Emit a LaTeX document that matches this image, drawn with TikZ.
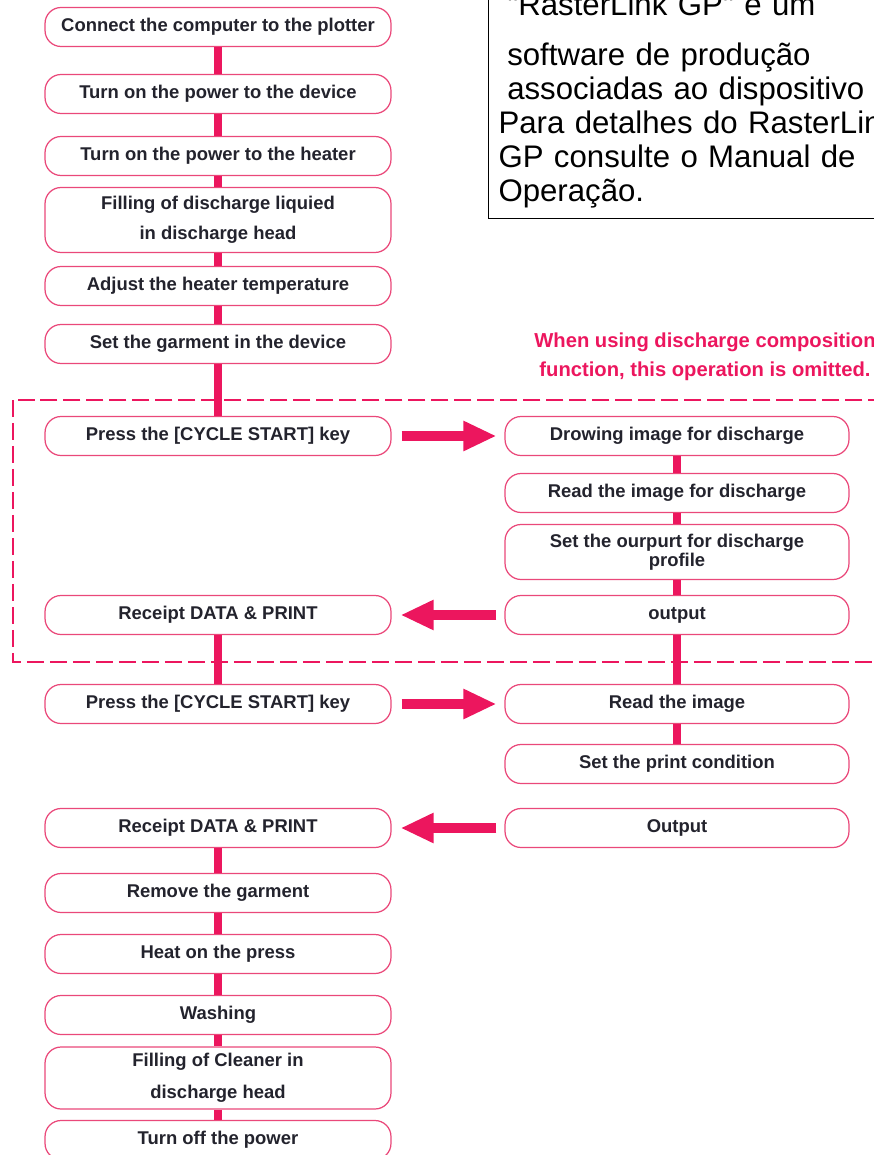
\documentclass[tikz,border=0pt]{standalone}
\usepackage{fontspec}
\setmainfont{Liberation Sans}
\newfontfamily\infofont{Liberation Sans}
\usetikzlibrary{arrows.meta}
\definecolor{mkpink}{RGB}{236,22,94}
\definecolor{boxpink}{RGB}{234,72,122}
\definecolor{inkdark}{RGB}{35,35,45}

\begin{document}
\begin{tikzpicture}[x=0.02cm,y=-0.02cm,
  flowbox/.style={draw=boxpink, line width=0.7pt, rounded corners=0.32cm, fill=white,
    minimum width=6.92cm, minimum height=0.78cm, inner sep=1pt, align=center,
    font=\fontsize{10.5}{13}\selectfont\bfseries, text=inkdark},
  link/.style={mkpink, line width=5pt},
  bigarrow/.style={mkpink, line width=6pt, -{Triangle[length=0.66cm 0 0, width=0.56cm 0 0]}},
  dashbox/.style={mkpink, line width=0.9pt, dash pattern=on 0.34cm off 0.12cm}]
\useasboundingbox (0,0) rectangle (874,1155);

% area that is skipped with discharge composition
\draw[dashbox] (13,400) rectangle (900,662);

% left column
\node[flowbox] (connect) at (218,27) {Connect the computer to the plotter};
\node[flowbox] (devon) at (218,94) {Turn on the power to the device};
\node[flowbox] (heaton) at (218,156) {Turn on the power to the heater};
\node[flowbox, minimum height=1.3cm] (fillliq) at (218,220) {Filling of discharge liquied\\[4pt]in discharge head};
\node[flowbox] (adjust) at (218,286) {Adjust the heater temperature};
\node[flowbox] (garment) at (218,344) {Set the garment in the device};
\node[flowbox] (press1) at (218,436) {Press the [CYCLE START] key};
\node[flowbox] (recv1) at (218,615) {Receipt DATA \& PRINT};
\node[flowbox] (press2) at (218,704) {Press the [CYCLE START] key};
\node[flowbox] (recv2) at (218,828) {Receipt DATA \& PRINT};
\node[flowbox] (remove) at (218,893) {Remove the garment};
\node[flowbox] (heatpress) at (218,954) {Heat on the press};
\node[flowbox] (washing) at (218,1015) {Washing};
\node[flowbox, minimum height=1.24cm] (fillclean) at (218,1078) {Filling of Cleaner in\\[5pt]discharge head};
\node[flowbox] (turnoff) at (218,1140) {Turn off the power};

% right column
\node[flowbox, minimum width=6.88cm] (drowimg) at (677,436) {Drowing image for discharge};
\node[flowbox, minimum width=6.88cm] (readdis) at (677,493) {Read the image for discharge};
\node[flowbox, minimum width=6.88cm, minimum height=1.1cm] (setout) at (677,552) {Set the ourpurt for discharge\\[-2pt]profile};
\node[flowbox, minimum width=6.88cm] (output1) at (677,615) {output};
\node[flowbox, minimum width=6.88cm] (readimg) at (677,704) {Read the image};
\node[flowbox, minimum width=6.88cm] (setprint) at (677,764) {Set the print condition};
\node[flowbox, minimum width=6.88cm] (output2) at (677,828) {Output};

\node[font=\fontsize{11.5}{16.5}\selectfont\bfseries, text=mkpink, align=center] (omitnote) at (705,357)
  {When using discharge composition\\function, this operation is omitted.};

\node[draw=black, line width=0.6pt, anchor=south west, inner sep=0.2cm, text width=9cm, align=left,
  font=\infofont\fontsize{17.75}{19.35}\selectfont] (infobox) at (488,219)
  {\hspace*{0.28em}"RasterLink GP" é um\\[0.32cm]
   \hspace*{0.28em}software de produção\\
   \hspace*{0.28em}associadas ao dispositivo\\
   Para detalhes do RasterLink\\
   GP consulte o Manual de\\
   Operação.};

% connectors
\draw[link] (connect) -- (devon);
\draw[link] (devon) -- (heaton);
\draw[link] (heaton) -- (fillliq);
\draw[link] (fillliq) -- (adjust);
\draw[link] (adjust) -- (garment);
\draw[link] (garment) -- (press1);
\draw[link] (recv1) -- (press2);
\draw[link] (recv2) -- (remove);
\draw[link] (remove) -- (heatpress);
\draw[link] (heatpress) -- (washing);
\draw[link] (washing) -- (fillclean);
\draw[link] (fillclean) -- (turnoff);
\draw[link] (drowimg) -- (readdis);
\draw[link] (readdis) -- (setout);
\draw[link] (setout) -- (output1);
\draw[link] (output1) -- (readimg);
\draw[link] (readimg) -- (setprint);

% big arrows
\draw[bigarrow, shorten <=0.2cm, shorten >=0.16cm] (press1) -- (drowimg);
\draw[bigarrow, shorten <=0.16cm, shorten >=0.18cm] (output1) -- (recv1);
\draw[bigarrow, shorten <=0.2cm, shorten >=0.16cm] (press2) -- (readimg);
\draw[bigarrow, shorten <=0.16cm, shorten >=0.18cm] (output2) -- (recv2);
\end{tikzpicture}
\end{document}
